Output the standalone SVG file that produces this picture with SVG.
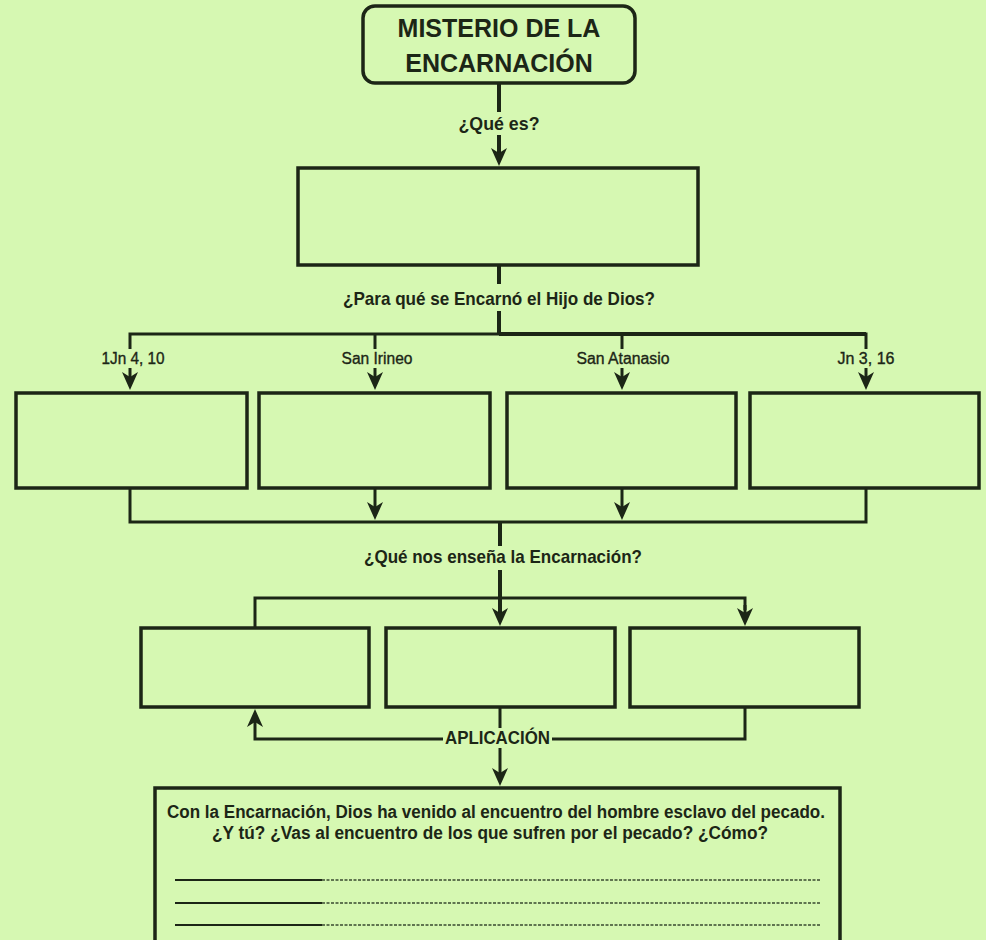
<svg xmlns="http://www.w3.org/2000/svg" width="986" height="940" viewBox="0 0 986 940">
<style>
.bg{fill:#d6f8b2}
.box{fill:#d6f8b2;stroke:#1c2616;stroke-width:3.5}
.ln{fill:none;stroke:#1c2616;stroke-width:3}
.sp{fill:none;stroke:#1c2616;stroke-width:4}
.t{font-family:"Liberation Sans",Arial,sans-serif;fill:#1c2616;text-anchor:middle}
.b{font-weight:bold}
.lbl{font-size:16px;stroke:#1c2616;stroke-width:0.35}
.q{font-size:18.5px;font-weight:bold}
.blank{stroke:#1c2616;stroke-width:2}
.blankd{stroke:#3a4a30;stroke-width:1.5;stroke-dasharray:3 1.5}
</style>
<defs>
<marker id="ah" markerUnits="userSpaceOnUse" markerWidth="18" markerHeight="16" refX="10" refY="8" orient="auto" overflow="visible">
<path d="M0,0 L18,8 L0,16 L5,8 z" fill="#1c2616"/>
</marker>
</defs>
<rect class="bg" x="0" y="0" width="986" height="940"/>

<g id="connectors">
<line class="sp" x1="499" y1="83" x2="499" y2="112"/>
<line class="sp" x1="499" y1="135" x2="499" y2="158" marker-end="url(#ah)"/>
<line class="sp" x1="499" y1="265" x2="499" y2="284"/>
<line class="sp" x1="499" y1="311" x2="499" y2="334"/>
<polyline class="ln" points="130,349 130,334 866,334 866,349"/>
<line class="sp" x1="499" y1="334" x2="866" y2="334"/>
<line class="ln" x1="375" y1="334" x2="375" y2="349"/>
<line class="ln" x1="622" y1="334" x2="622" y2="349"/>
<line class="ln" x1="130" y1="368" x2="130" y2="382" marker-end="url(#ah)"/>
<line class="ln" x1="375" y1="368" x2="375" y2="382" marker-end="url(#ah)"/>
<line class="ln" x1="622" y1="368" x2="622" y2="382" marker-end="url(#ah)"/>
<line class="ln" x1="866" y1="368" x2="866" y2="382" marker-end="url(#ah)"/>
<polyline class="ln" points="130,488 130,522 866,522 866,488"/>
<line class="ln" x1="375" y1="488" x2="375" y2="512" marker-end="url(#ah)"/>
<line class="ln" x1="622" y1="488" x2="622" y2="512" marker-end="url(#ah)"/>
<line class="sp" x1="500" y1="522" x2="500" y2="546"/>
<line class="sp" x1="500" y1="570" x2="500" y2="618" marker-end="url(#ah)"/>
<polyline class="ln" points="255,628 255,598 745,598 745,610"/>
<line class="ln" x1="745" y1="605" x2="745" y2="618" marker-end="url(#ah)"/>
<line class="ln" x1="500" y1="707" x2="500" y2="728"/>
<polyline class="ln" points="443,739 255,739 255,717" marker-end="url(#ah)"/>
<polyline class="ln" points="552,739 745,739 745,707"/>
<line class="ln" x1="500" y1="748" x2="500" y2="778" marker-end="url(#ah)"/>
</g>

<g id="title">
<rect class="box" x="363" y="6" width="272" height="77" rx="12"/>
<text class="t b" x="499" y="37" font-size="25">MISTERIO DE LA</text>
<text class="t b" x="499" y="72" font-size="25">ENCARNACIÓN</text>
</g>
<g id="label-que-es"><text class="t q" x="499" y="130" textLength="81" lengthAdjust="spacingAndGlyphs">¿Qué es?</text></g>
<g id="main"><rect class="box" x="298" y="168" width="400" height="97"/></g>
<g id="label-para-que"><text class="t q" x="499" y="305" textLength="312" lengthAdjust="spacingAndGlyphs">¿Para qué se Encarnó el Hijo de Dios?</text></g>
<g id="lbl-1jn"><text class="t lbl" x="133" y="364" textLength="63" lengthAdjust="spacingAndGlyphs">1Jn 4, 10</text></g>
<g id="lbl-irineo"><text class="t lbl" x="377" y="364" textLength="71" lengthAdjust="spacingAndGlyphs">San Irineo</text></g>
<g id="lbl-atanasio"><text class="t lbl" x="623" y="364" textLength="93" lengthAdjust="spacingAndGlyphs">San Atanasio</text></g>
<g id="lbl-jn"><text class="t lbl" x="866" y="364" textLength="57" lengthAdjust="spacingAndGlyphs">Jn 3, 16</text></g>
<g id="box-1jn"><rect class="box" x="16" y="393" width="231" height="95"/></g>
<g id="box-irineo"><rect class="box" x="259" y="393" width="231" height="95"/></g>
<g id="box-atanasio"><rect class="box" x="507" y="393" width="229" height="95"/></g>
<g id="box-jn"><rect class="box" x="750" y="393" width="229" height="95"/></g>
<g id="label-ensena"><text class="t q" x="503" y="563" textLength="278" lengthAdjust="spacingAndGlyphs">¿Qué nos enseña la Encarnación?</text></g>
<g id="box-a"><rect class="box" x="141" y="628" width="228" height="79"/></g>
<g id="box-b"><rect class="box" x="386" y="628" width="229" height="79"/></g>
<g id="box-c"><rect class="box" x="630" y="628" width="229" height="79"/></g>
<g id="label-aplicacion"><text class="t b" x="497.5" y="744" font-size="19" textLength="105" lengthAdjust="spacingAndGlyphs">APLICACIÓN</text></g>
<g id="box-aplicacion">
<rect class="box" x="155" y="788" width="685" height="180"/>
<text class="t b" x="496" y="818" font-size="18" textLength="658" lengthAdjust="spacingAndGlyphs">Con la Encarnación, Dios ha venido al encuentro del hombre esclavo del pecado.</text>
<text class="t b" x="490" y="839" font-size="18" textLength="556" lengthAdjust="spacingAndGlyphs">¿Y tú? ¿Vas al encuentro de los que sufren por el pecado? ¿Cómo?</text>
<line class="blank" x1="175" y1="880" x2="322" y2="880"/>
<line class="blankd" x1="322" y1="880" x2="820" y2="880"/>
<line class="blank" x1="175" y1="903" x2="322" y2="903"/>
<line class="blankd" x1="322" y1="903" x2="820" y2="903"/>
<line class="blank" x1="175" y1="925" x2="322" y2="925"/>
<line class="blankd" x1="322" y1="925" x2="820" y2="925"/>
</g>
</svg>
